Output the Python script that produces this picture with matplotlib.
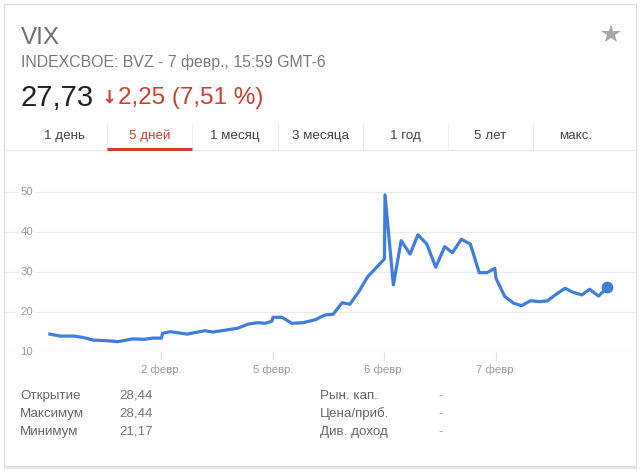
import matplotlib.pyplot as plt
from matplotlib.patches import Rectangle
from matplotlib.lines import Line2D
from matplotlib.transforms import blended_transform_factory

plt.rcParams['font.family'] = ['Liberation Sans', 'DejaVu Sans']

W, H = 643, 470

# time in trading days from the open of 1 Feb (1 = 2 Feb, 2 = 5 Feb, ...)
t = [0.0, 0.09, 0.21, 0.29, 0.39, 0.51, 0.61, 0.74, 0.85, 0.92, 1.0, 1.01,
     1.08, 1.23, 1.39, 1.46, 1.68, 1.78, 1.86, 1.93, 1.99, 2.0, 2.08, 2.17,
     2.27, 2.38, 2.47, 2.54, 2.62, 2.69, 2.77, 2.85, 2.93, 3.0, 3.005, 3.08,
     3.15, 3.23, 3.30, 3.38, 3.46, 3.54, 3.61, 3.69, 3.77, 3.85, 3.92, 3.99,
     4.0, 4.08, 4.16, 4.23, 4.31, 4.39, 4.46, 4.54, 4.62, 4.69, 4.77, 4.84,
     4.92, 5.0]
vix = [14.4, 13.9, 13.9, 13.6, 12.9, 12.75, 12.5, 13.2, 13.1, 13.4, 13.4, 14.6,
       15.0, 14.4, 15.25, 14.9, 15.85, 16.9, 17.25, 17.1, 17.6, 18.6, 18.6, 17.1,
       17.25, 18.0, 19.2, 19.35, 22.25, 21.85, 25.0, 28.75, 31.1, 33.2, 49.2, 26.7,
       37.75, 34.4, 39.2, 36.9, 31.1, 36.25, 34.75, 38.1, 36.9, 29.75, 29.75, 30.85,
       28.35, 23.75, 22.1, 21.5, 22.75, 22.5, 22.7, 24.35, 25.85, 24.85, 24.2, 25.6,
       23.9, 26.1]

y_ticks = [10, 20, 30, 40, 50]
x_ticks = [1, 2, 3, 4]
x_labels = ['2 февр.', '5 февр.', '6 февр.', '7 февр.']

tabs = ['1 день', '5 дней', '1 месяц', '3 месяца', '1 год', '5 лет', 'макс.']
active_tab = 1

stat_names_l = ['Открытие', 'Максимум', 'Минимум']
stat_vals_l = ['28,44', '28,44', '21,17']
stat_names_r = ['Рын. кап.', 'Цена/приб.', 'Див. доход']
stat_vals_r = ['-', '-', '-']

BLUE = '#3f7edb'
RED = '#c9402f'
GRID = '#ebebeb'


def fx(px):
    return px / W


def fy(py):
    return 1 - py / H


fig = plt.figure(figsize=(W / 100, H / 100), dpi=100)
fig.patch.set_facecolor('white')

# card outline
fig.patches.append(Rectangle((fx(4), fy(466)), fx(632), 462 / H, transform=fig.transFigure,
                             facecolor='none', edgecolor='#dcdcdc', lw=0.8, zorder=0))
fig.lines.append(Line2D([fx(5), fx(636)], [fy(467.5)] * 2, transform=fig.transFigure,
                        color='#e6e6e6', lw=1.5))

# header
fig.text(fx(21), fy(38), 'VIX', fontsize=17.5, color='#6f6f6f', va='center')
fig.text(fx(21), fy(62), 'INDEXCBOE: BVZ - 7 февр., 15:59 GMT-6', fontsize=11.4,
         color='#7a7a7a', va='center')
fig.text(fx(20), fy(98), '27,73', fontsize=21, color='#222222', va='center')
fig.text(fx(102), fy(98), '\u2193', fontsize=13, color=RED, va='center',
         family='DejaVu Sans', fontweight='bold')
fig.text(fx(118), fy(98), '2,25 (7,51 %)', fontsize=17.5, color=RED, va='center')
fig.lines.append(Line2D([fx(611)], [fy(34)], transform=fig.transFigure, marker='*',
                        markersize=15, color='#a8a8a8', markeredgewidth=0))

# tabs
tab_left, tab_w = 22, 85.2
for i, name in enumerate(tabs):
    cx = tab_left + tab_w * (i + 0.5)
    fig.text(fx(cx), fy(136), name, fontsize=9.6, ha='center', va='center',
             color=RED if i == active_tab else '#444444')
    if 0 < i:
        x0 = tab_left + tab_w * i
        fig.lines.append(Line2D([fx(x0)] * 2, [fy(123), fy(149)], transform=fig.transFigure,
                                color='#eeeeee', lw=0.8))
fig.lines.append(Line2D([fx(5), fx(636)], [fy(150.5)] * 2, transform=fig.transFigure,
                        color='#e8e8e8', lw=0.8))
ua = tab_left + tab_w * active_tab
fig.lines.append(Line2D([fx(ua), fx(ua + tab_w)], [fy(148.5)] * 2, transform=fig.transFigure,
                        color=RED, lw=2.2, solid_capstyle='butt'))

# chart
ax = fig.add_axes([fx(5), fy(351.7), fx(631), (351.7 - 172) / H])
ax.plot(t, vix, color=BLUE, lw=2.3, solid_joinstyle='round', zorder=3)
ax.plot(t[-1], vix[-1], 'o', color=BLUE, markersize=7.5, zorder=4)
ax.set_xlim(-0.403, 5.256)
ax.set_ylim(10, 54.9)
ax.set_yticks(y_ticks)
ax.yaxis.grid(True, color=GRID, lw=0.9)
ax.set_axisbelow(True)
ax.tick_params(axis='y', length=0, labelleft=False)
ax.set_xticks(x_ticks)
ax.set_xticklabels(x_labels)
ax.tick_params(axis='x', length=5, width=0.8, color='#dddddd', labelsize=8.2,
               labelcolor='#9a9a9a', pad=4)
for s in ax.spines.values():
    s.set_visible(False)
ax.patch.set_alpha(0)

ytr = blended_transform_factory(fig.transFigure, ax.transData)
for v in y_ticks:
    ax.text(fx(20.5), v, str(v), transform=ytr, fontsize=8.2, color='#9a9a9a', va='center',
            ha='left', bbox=dict(boxstyle='square,pad=0.15', fc='white', ec='none'), zorder=2)

# stats
rows_y = [396, 414, 432]
for i, yy in enumerate(rows_y):
    fig.text(fx(20), fy(yy), stat_names_l[i], fontsize=9.6, color='#666666', va='center')
    fig.text(fx(119), fy(yy), stat_vals_l[i], fontsize=9.6, color='#777777', va='center')
    fig.text(fx(320), fy(yy), stat_names_r[i], fontsize=9.6, color='#666666', va='center')
    fig.text(fx(438), fy(yy), stat_vals_r[i], fontsize=9.6, color='#999999', va='center')

fig.savefig('out.png', dpi=100)
